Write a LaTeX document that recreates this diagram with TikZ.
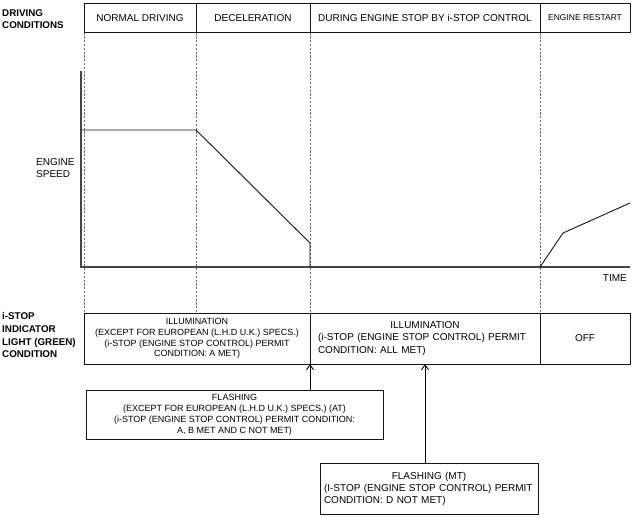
\documentclass[tikz,border=0pt]{standalone}
\usepackage{fontspec}
\setmainfont{Liberation Sans}
\usetikzlibrary{positioning, arrows.meta}

\begin{document}
\begin{tikzpicture}[x=1pt, y=-1pt,
	hcell/.style={draw=inkblack, line width=1pt, minimum height=29pt, inner sep=0pt, outer sep=0pt, font=\fontsize{10}{12}\selectfont},
	lcell/.style={draw=inkblack, line width=1pt, minimum height=51pt, inner sep=0pt, outer sep=0pt},
	flashbox/.style={draw=inkblack, line width=0.9pt, inner sep=0pt, outer sep=0pt, anchor=north west},
	rowlabel/.style={anchor=north west, align=left, inner sep=0pt, font=\bfseries\fontsize{9.8}{12.6}\selectfont},
	guide/.style={inkgray!80, dash pattern=on 2.2pt off 1.6pt, line width=0.6pt},
	axis/.style={inkgray, line width=1.6pt},
	speed/.style={inkblack, line width=0.9pt},
	pointer/.style={-{Straight Barb[length=5pt, width=7pt]}, line width=0.9pt}
	]
		\definecolor{inkblack}{RGB}{20, 20, 20}
		\definecolor{inkgray}{RGB}{70, 70, 70}
	\useasboundingbox (0, 0) rectangle (636, 517);

	% row labels
	\node [rowlabel] (drvlabel) at (2, 9) {DRIVING\\CONDITIONS};
	\node [rowlabel] (lamplabel) at (2, 312.5) {i-STOP\\INDICATOR\\LIGHT (GREEN)\\CONDITION};

	% driving conditions
	\node [hcell, minimum width=112pt, anchor=north west] (normal) at (84, 3.5) {NORMAL DRIVING};
	\node [hcell, minimum width=114pt, right=0pt of normal] (decel) {DECELERATION};
	\node [hcell, minimum width=230pt, right=0pt of decel] (stop) {DURING ENGINE STOP BY i-STOP CONTROL};
	\node [hcell, minimum width=90pt, right=0pt of stop, font=\fontsize{8.5}{10}\selectfont] (restart) {ENGINE RESTART};

	% indicator light
	\node [lcell, minimum width=226pt, anchor=north west, align=center, font=\fontsize{9}{10.7}\selectfont] (litA) at (84, 313)
		{ILLUMINATION\\(EXCEPT FOR EUROPEAN (L.H.D U.K.) SPECS.)\\(i-STOP (ENGINE STOP CONTROL) PERMIT\\CONDITION: A MET)};
	\node [lcell, minimum width=230pt, right=0pt of litA, text width=214pt, align=left, font=\fontsize{10}{12.3}\selectfont] (litAll)
		{\makebox[\hsize]{ILLUMINATION}\\(i-STOP (ENGINE STOP CONTROL) PERMIT\\CONDITION: ALL MET)};
	\node [lcell, minimum width=90pt, right=0pt of litAll, font=\fontsize{10}{12}\selectfont] (litOff) {OFF};

	% guides
	\foreach \c in {normal, decel, stop, restart}
		\draw [guide] (\c.south west) -- (\c.south west |- litA.north);

	% engine speed
	\coordinate (ytop) at (81, 71);
	\coordinate (origin) at (81, 267);
	\coordinate (xend) at (630, 267);
	\draw [axis] (ytop) -- (origin) -- (xend);
	\node [anchor=north west, align=left, inner sep=0pt, font=\fontsize{10}{11.6}\selectfont] (speedlabel) at (36, 158.5) {ENGINE\\SPEED};
	\node [anchor=base east, inner sep=0pt, font=\fontsize{10}{12}\selectfont] (timelabel) at (627, 281) {TIME};
	\draw [speed] (81, 130) -- (196, 130) -- (310, 243) -- (310, 267);
	\draw [speed] (540, 267) -- (563, 233) -- (630, 203);

	% flashing
	\node [flashbox, minimum width=297pt, minimum height=49pt, align=center, font=\fontsize{9}{11}\selectfont] (flashAT) at (86, 390)
		{FLASHING\\(EXCEPT FOR EUROPEAN (L.H.D U.K.) SPECS.) (AT)\\(i-STOP (ENGINE STOP CONTROL) PERMIT CONDITION:\\A, B MET AND C NOT MET)};
	\node [flashbox, minimum width=218pt, minimum height=51pt, text width=210pt, align=left, font=\fontsize{10}{12}\selectfont] (flashMT) at (320, 463)
		{\makebox[\hsize]{FLASHING (MT)}\\(I-STOP (ENGINE STOP CONTROL) PERMIT\\CONDITION: D NOT MET)};
	\draw [pointer] (flashAT.north -| litA.south east) -- (litA.south east);
	\draw [pointer] (flashMT.north -| litAll.south) -- (litAll.south);
\end{tikzpicture}
\end{document}
